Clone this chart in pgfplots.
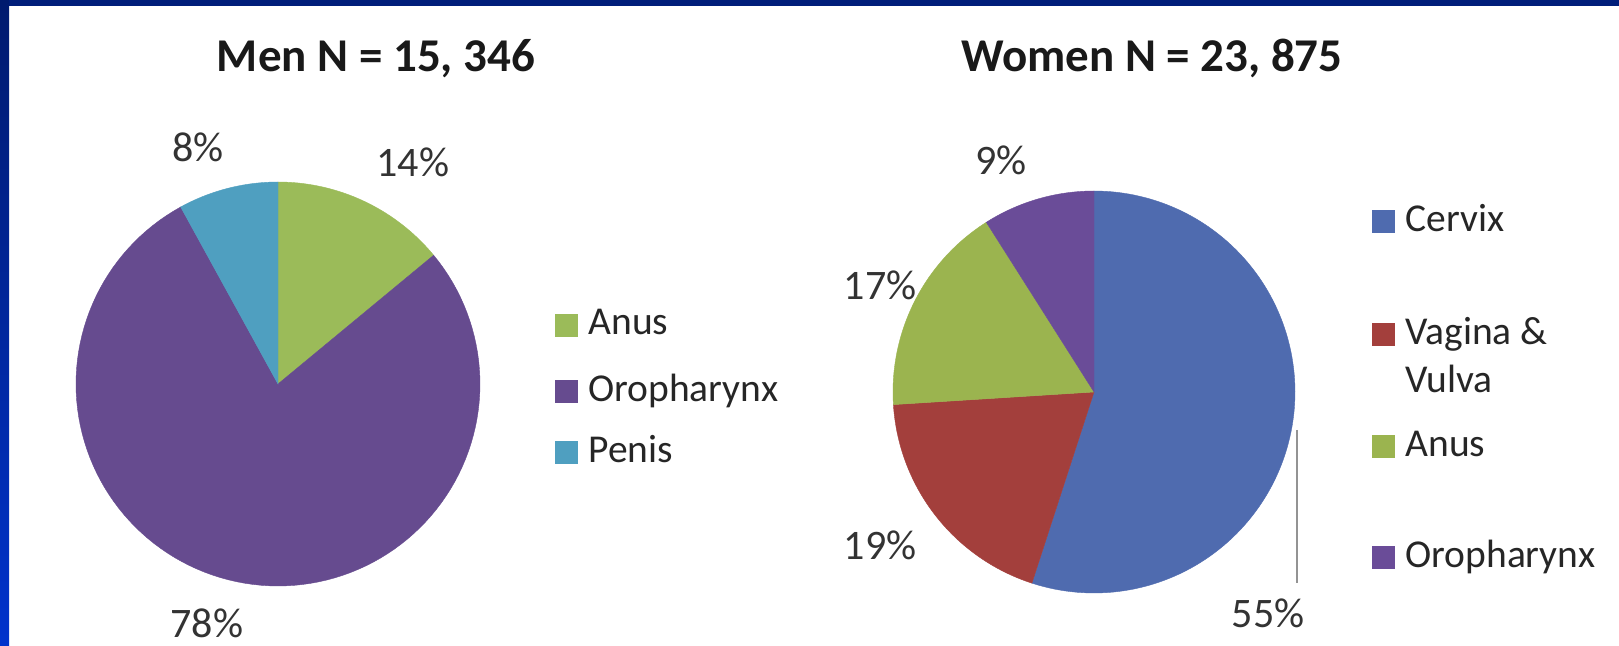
\documentclass[border=0pt]{standalone}
\usepackage{pgfplots}
\pgfplotsset{compat=1.18}
\usepackage{fontspec}
\setmainfont{Carlito}
\definecolor{topblue}{HTML}{001E7A}
\definecolor{edgetop}{HTML}{001A6E}
\definecolor{edgebot}{HTML}{0033CC}
\definecolor{mAnus}{HTML}{9BBB59}
\definecolor{mOro}{HTML}{664B8F}
\definecolor{mPenis}{HTML}{4F9FC0}
\definecolor{wCervix}{HTML}{4F6BAF}
\definecolor{wVV}{HTML}{A33F3C}
\definecolor{wAnus}{HTML}{9BB44F}
\definecolor{wOro}{HTML}{6A4C98}
\definecolor{lbl}{HTML}{333333}
% slice: cx, cy, r, start cumulative %, end cumulative %, colour
\newcommand{\slice}[6]{%
  \addplot[fill=#6, draw=#6, line width=0.2pt, domain=90-3.6*#5:90-3.6*#4, samples=120]
    ({#1+#3*cos(x)},{#2-#3*sin(x)}) -- (axis cs:#1,#2) -- cycle;}
\newcommand{\lsq}[3]{\node[fill=#3, inner sep=0pt, minimum width=11.5pt, minimum height=11.5pt, anchor=south west] at (axis cs:#1,#2) {};}
\begin{document}
\begin{tikzpicture}
\begin{axis}[
  x=0.5pt, y=0.5pt,
  xmin=0, xmax=1619, ymin=0, ymax=646,
  y dir=reverse,
  hide axis, clip=false,
  scale only axis,
]
\fill[white] (axis cs:0,0) rectangle (axis cs:1619,646);
\fill[topblue] (axis cs:0,0) rectangle (axis cs:1619,6);
\shade[top color=edgetop, bottom color=edgebot] (axis cs:0,0) rectangle (axis cs:9,646);

% Men: Anus 14, Oropharynx 78, Penis 8
\slice{278}{384}{202}{0}{14}{mAnus}
\slice{278}{384}{202}{14}{92}{mOro}
\slice{278}{384}{202}{92}{100}{mPenis}

% Women: Cervix 55, Vagina & Vulva 19, Anus 17, Oropharynx 9
\slice{1094}{392}{201}{0}{55}{wCervix}
\slice{1094}{392}{201}{55}{74}{wVV}
\slice{1094}{392}{201}{74}{91}{wAnus}
\slice{1094}{392}{201}{91}{100}{wOro}

\draw[gray!85, line width=1pt] (axis cs:1297,430) -- (axis cs:1297,583);

% titles
\node[anchor=base, inner sep=0pt, font=\fontsize{23.5}{28}\selectfont\bfseries, text=black!90] at (axis cs:376,72) {Men N = 15, 346};
\node[anchor=base, inner sep=0pt, font=\fontsize{23.5}{28}\selectfont\bfseries, text=black!90] at (axis cs:1152,72) {Women N = 23, 875};

% percentage labels
\begin{scope}[every node/.style={anchor=base, inner sep=0pt, font=\fontsize{21}{25}\selectfont, text=lbl}]
\node at (axis cs:198,162) {8\%};
\node at (axis cs:413,177) {14\%};
\node at (axis cs:207,638) {78\%};
\node at (axis cs:1001,175) {9\%};
\node at (axis cs:880,300) {17\%};
\node at (axis cs:880,560) {19\%};
\node at (axis cs:1268,628) {55\%};
\end{scope}

% legends
\lsq{555}{337}{mAnus}
\lsq{555}{403}{mOro}
\lsq{555}{464}{mPenis}
\lsq{1372}{233}{wCervix}
\lsq{1372}{346}{wVV}
\lsq{1372}{458}{wAnus}
\lsq{1372}{569}{wOro}
\begin{scope}[every node/.style={anchor=base west, inner sep=0pt, font=\fontsize{19.75}{24}\selectfont, text=black!85}]
\node at (axis cs:588,335) {Anus};
\node at (axis cs:588,402) {Oropharynx};
\node at (axis cs:588,463) {Penis};
\node at (axis cs:1405,232) {Cervix};
\node at (axis cs:1405,345) {Vagina \&};
\node at (axis cs:1405,393) {Vulva};
\node at (axis cs:1405,457) {Anus};
\node at (axis cs:1405,568) {Oropharynx};
\end{scope}
\end{axis}
\end{tikzpicture}
\end{document}
